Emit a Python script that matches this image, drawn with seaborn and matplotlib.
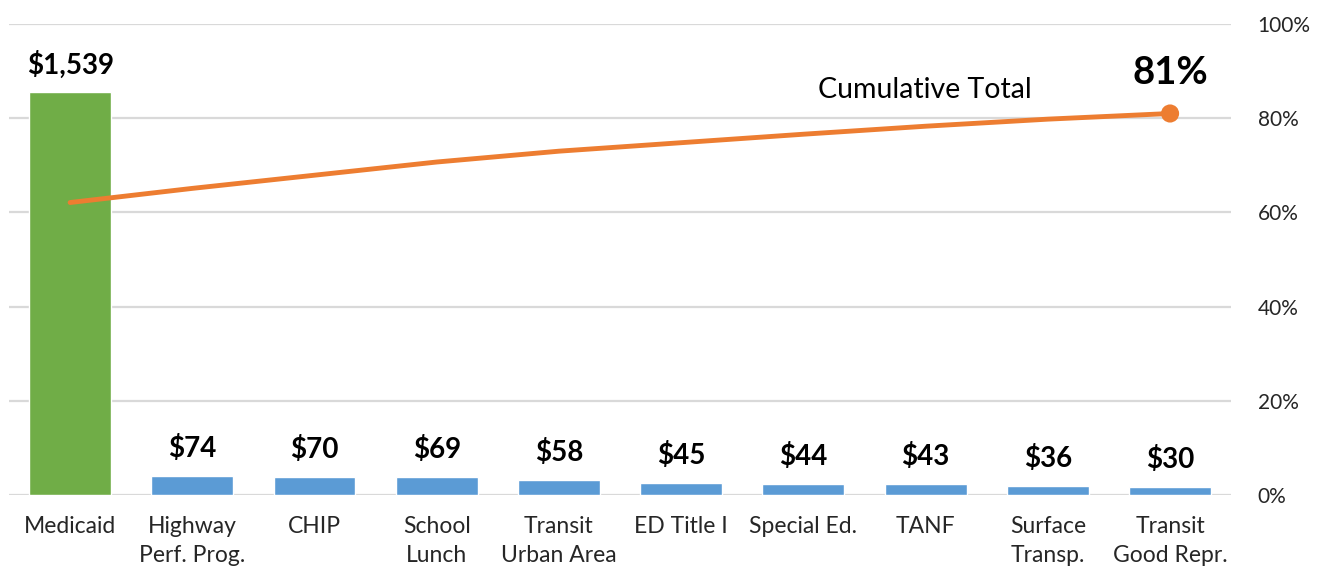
import matplotlib
matplotlib.use("Agg")
import matplotlib.pyplot as plt
import numpy as np
import pandas as pd
import seaborn as sns

# Program spending (bars, $ billions) and cumulative share (line)
programs = ["Medicaid", "Highway\nPerf. Prog.", "CHIP", "School\nLunch", "Transit\nUrban Area",
            "ED Title I", "Special Ed.", "TANF", "Surface\nTransp.", "Transit\nGood Repr."]
amounts = [1539, 74, 70, 69, 58, 45, 44, 43, 36, 30]
amount_labels = ["$1,539", "$74", "$70", "$69", "$58", "$45", "$44", "$43", "$36", "$30"]
cumulative_pct = [0.621, 0.651, 0.679, 0.707, 0.730, 0.748, 0.766, 0.783, 0.798, 0.810]
bar_group = ["top", "rest", "rest", "rest", "rest", "rest", "rest", "rest", "rest", "rest"]

df = pd.DataFrame({"program": programs, "amount": amounts, "group": bar_group})

sns.set_theme(style="white")
plt.rcParams["font.family"] = ["Lato", "DejaVu Sans"]

fig = plt.figure(figsize=(13.21, 5.66), dpi=100)
ax = fig.add_axes([0.0068, 0.1254, 0.9252, 0.8322])

sns.barplot(data=df, x="program", y="amount", hue="group",
            palette={"top": "#70ad47", "rest": "#5b9bd5"}, saturation=1,
            width=0.67, dodge=False, legend=False, ax=ax, zorder=2)
ax.set_ylim(0, 1800)
ax.set_xlim(-0.5, len(programs) - 0.5)
ax.set_yticks(np.linspace(0, 1800, 6))
ax.set_yticklabels([])
ax.yaxis.grid(True, color="#d9d9d9", linewidth=1.6, zorder=0)
ax.set_axisbelow(True)
ax.set_xlabel("")
ax.set_ylabel("")
ax.tick_params(axis="x", length=0, pad=15, labelsize=16.5)
ax.tick_params(axis="y", length=0)
for lbl in ax.get_xticklabels():
    lbl.set_linespacing(1.45)
    lbl.set_verticalalignment("top")
for s in ax.spines.values():
    s.set_visible(False)

# value labels above bars
for i, (v, t) in enumerate(zip(amounts, amount_labels)):
    ax.annotate(t, (i, v), xytext=(0, 10), textcoords="offset points",
                ha="center", va="bottom", fontsize=20, fontweight="bold", color="black")

# cumulative line on the right axis
ax2 = ax.twinx()
x_pos = np.arange(len(programs))
sns.lineplot(x=x_pos, y=cumulative_pct, color="#ed7d31", linewidth=3.5, ax=ax2, zorder=3)
sns.scatterplot(x=x_pos[-1:], y=cumulative_pct[-1:], color="#ed7d31", s=170,
                edgecolor="none", ax=ax2, zorder=4)
ax2.set_ylim(0, 1.0)
ax2.set_yticks(np.linspace(0, 1.0, 6))
ax2.set_yticklabels([f"{int(round(v * 100))}%" for v in np.linspace(0, 1.0, 6)])
ax2.tick_params(axis="y", length=0, pad=19, labelsize=15)
ax2.set_ylabel("")
for s in ax2.spines.values():
    s.set_visible(False)

ax2.annotate(f"{int(round(cumulative_pct[-1] * 100))}%", (x_pos[-1], cumulative_pct[-1]),
             xytext=(0, 17), textcoords="offset points", ha="center", va="bottom",
             fontsize=27.5, fontweight="bold", color="black")
ax2.text(6.99, 0.86, "Cumulative Total", ha="center", va="center", fontsize=20.5, color="black")

fig.savefig("out.png", dpi=100)
